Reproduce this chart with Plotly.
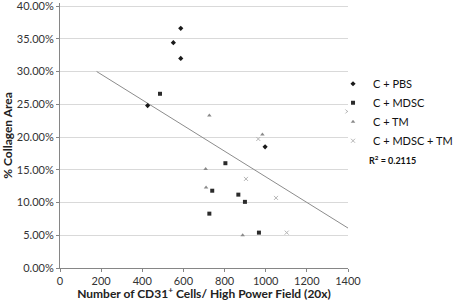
import plotly.graph_objects as go

# Data
pbs_x = [587, 551, 587, 426, 997]
pbs_y = [0.366, 0.344, 0.320, 0.248, 0.185]

mdsc_x = [486, 804, 740, 726, 867, 899, 967]
mdsc_y = [0.266, 0.160, 0.118, 0.083, 0.112, 0.101, 0.054]

tm_x = [726, 708, 710, 888, 984]
tm_y = [0.233, 0.151, 0.123, 0.050, 0.204]

mdsc_tm_x = [904, 1050, 1102, 1397, 964]
mdsc_tm_y = [0.136, 0.107, 0.054, 0.239, 0.197]

trend_x = [178, 1400]
trend_y = [0.300, 0.061]

r2_text = "R<sup>2</sup> = 0.2115"

x_ticks = [0, 200, 400, 600, 800, 1000, 1200, 1400]
y_ticks = [0, 0.05, 0.10, 0.15, 0.20, 0.25, 0.30, 0.35, 0.40]

FONT = "Lato, Open Sans, sans-serif"

fig = go.Figure()
fig.add_trace(go.Scatter(x=trend_x, y=trend_y, mode="lines",
                         line=dict(color="#8c8c8c", width=1), showlegend=False,
                         hoverinfo="skip"))
fig.add_trace(go.Scatter(x=pbs_x, y=pbs_y, mode="markers", name="C + PBS",
                         marker=dict(symbol="diamond", size=4, color="#1a1a1a")))
fig.add_trace(go.Scatter(x=mdsc_x, y=mdsc_y, mode="markers", name="C + MDSC",
                         marker=dict(symbol="square", size=4, color="#2b2b2b")))
fig.add_trace(go.Scatter(x=tm_x, y=tm_y, mode="markers", name="C + TM",
                         marker=dict(symbol="triangle-up", size=4, color="#8a8a8a")))
fig.add_trace(go.Scatter(x=mdsc_tm_x, y=mdsc_tm_y, mode="markers", name="C + MDSC + TM",
                         marker=dict(symbol="x-thin", size=4, color="#b5b5b5",
                                     line=dict(width=1, color="#b5b5b5"))))

fig.update_layout(
    width=454, height=301, autosize=False,
    margin=dict(l=60, r=106, t=3, b=33, autoexpand=False),
    paper_bgcolor="white", plot_bgcolor="white",
    font=dict(family=FONT, size=11, color="#222"),
    legend=dict(x=0.948, y=0.750, xanchor="left", yanchor="top",
                font=dict(size=11, family=FONT, color="#111"),
                itemwidth=30, tracegroupgap=0, bgcolor="rgba(0,0,0,0)"),
    xaxis=dict(range=[0, 1400], tickvals=x_ticks, showgrid=False, zeroline=False,
               showline=True, linecolor="#868686", linewidth=1,
               ticks="outside", ticklen=3, tickcolor="#868686",
               tickfont=dict(size=11, color="#333"),
               title=dict(text="Number of CD31<sup>+</sup> Cells/ High Power Field (20x)",
                          font=dict(size=12, color="#222", family=FONT, weight="bold"),
                          standoff=0)),
    yaxis=dict(range=[0, 0.4046], tickvals=y_ticks, tickformat=".2%",
               showgrid=True, gridcolor="#d9d9d9", gridwidth=1, zeroline=False,
               showline=True, linecolor="#868686", linewidth=1,
               ticks="outside", ticklen=3, tickcolor="#868686",
               ticklabeloverflow="allow",
               tickfont=dict(size=11, color="#333"),
               title=dict(text="% Collagen Area",
                          font=dict(size=12, color="#222", family=FONT, weight="bold"),
                          standoff=4)),
)

fig.add_annotation(text=r2_text, xref="paper", yref="paper", x=1.066, y=0.408,
                   xanchor="left", yanchor="middle", showarrow=False,
                   font=dict(size=9, family=FONT, color="#111", weight="bold"))

fig.write_html("out.html", config={"displayModeBar": False},
               post_script="document.body.style.margin='0';")
